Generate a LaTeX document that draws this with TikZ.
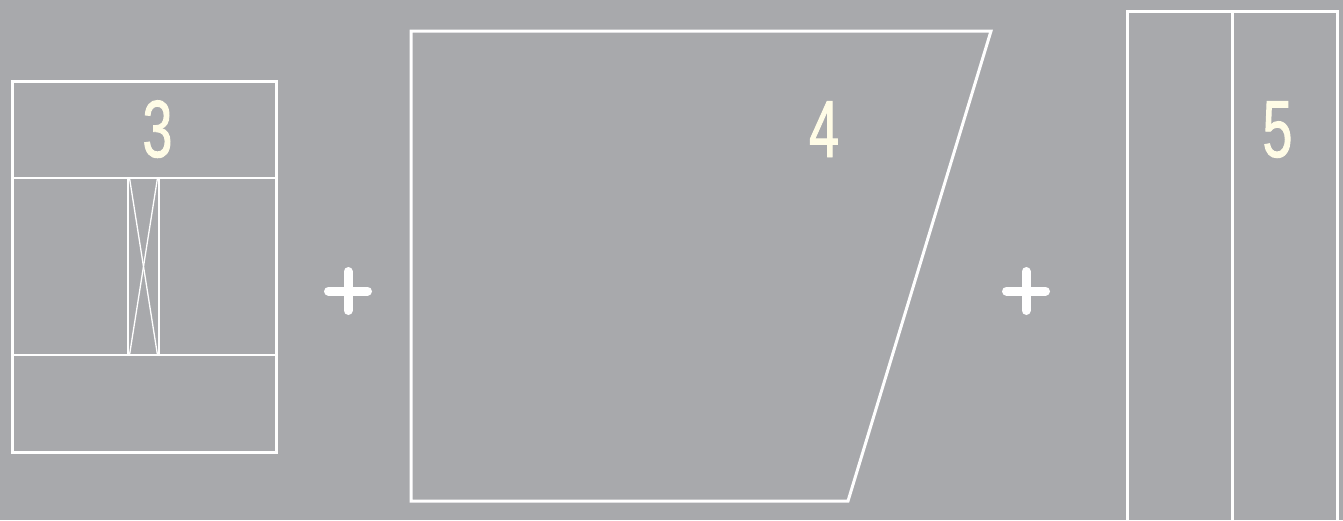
\documentclass[tikz,border=0pt]{standalone}
\usepackage{fontspec}
\newfontfamily\digitfont[FakeStretch=0.66,FakeBold=1.2]{Liberation Sans}
\definecolor{bg}{HTML}{A8A9AC}
\definecolor{digit}{HTML}{FFFCE6}
\tikzset{
  frame/.style={draw=white, line width=3pt, line join=miter},
  thin/.style={draw=white, line width=1.3pt},
  mid/.style={draw=white, line width=2pt},
  plus/.style={draw=white, line width=9pt, line cap=round},
  num/.style={text=digit, font=\digitfont\fontsize{81}{81}\selectfont, inner sep=0pt, anchor=base}
}
\begin{document}
\begin{tikzpicture}[x=1pt,y=-1pt]
\useasboundingbox (0,0) rectangle (1343,520);
\fill[bg] (0,0) rectangle (1343,520);
% box 3
\coordinate (b3tl) at (12,81);
\coordinate (b3br) at (276,452);
\draw[frame] (b3tl) rectangle (b3br);
\draw[mid] (12,178) -- (276,178);
\draw[mid] (12,355) -- (276,355);
\draw[mid] (128,178) -- (128,355);
\draw[mid] (159,178) -- (159,355);
\draw[thin] (129.5,178) -- (157.5,355);
\draw[thin] (157.5,178) -- (129.5,355);
\node[num] (n3) at (157.5,157) {3};
% plus 1
\draw[plus] (328.5,291) -- (367.5,291);
\draw[plus] (348,271.5) -- (348,310.5);
% box 4
\draw[frame] (411,31) -- (991,31) -- (848,501) -- (411,501) -- cycle;
\node[num] (n4) at (824,157) {4};
% plus 2
\draw[plus] (1006.5,291) -- (1045.5,291);
\draw[plus] (1026,271.5) -- (1026,310.5);
% box 5
\draw[frame] (1127,525) -- (1127,11) -- (1337,11) -- (1337,525);
\draw[frame] (1232,11) -- (1232,525);
\node[num] (n5) at (1277.5,157) {5};
\end{tikzpicture}
\end{document}
